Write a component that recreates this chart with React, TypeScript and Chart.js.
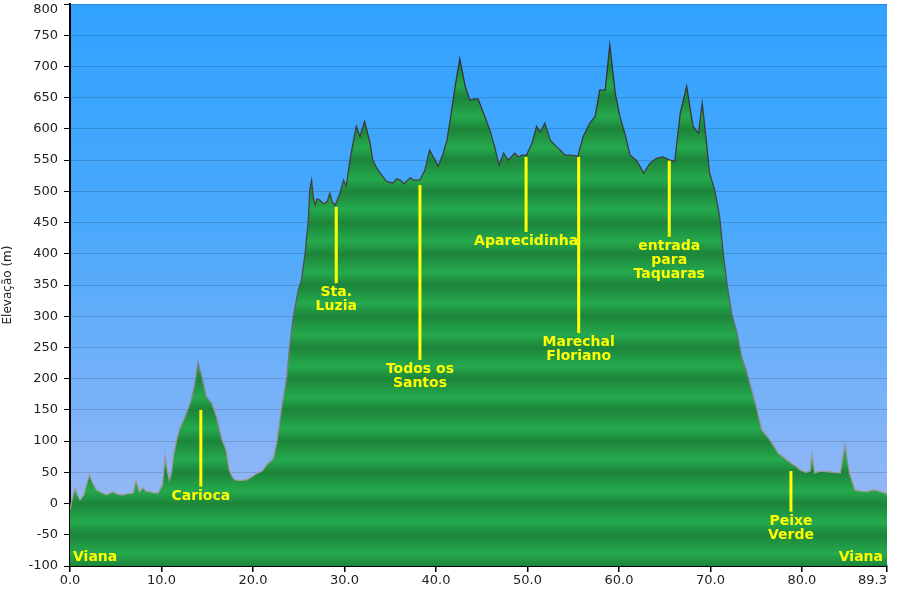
import { useEffect, useRef } from 'react';
import Chart from 'chart.js/auto';

// distance along the route (km) and elevation (m)
const distanceKm = [
  0.0, 0.3, 0.55, 0.8, 1.1, 1.5, 1.8, 2.1, 2.5, 2.9, 3.4, 4.0, 4.4, 4.7, 5.2, 5.8, 6.3, 6.9, 7.2, 7.6,
  8.0, 8.3, 8.7, 9.2, 9.6, 9.8, 10.1, 10.4, 10.6, 10.85, 11.1, 11.3, 11.66, 12.0, 12.4, 12.75, 13.3, 13.66, 14.0, 14.4,
  14.9, 15.5, 16.0, 16.6, 17.05, 17.4, 17.7, 18.0, 18.6, 19.3, 19.9, 20.4, 21.0, 21.5, 22.2, 22.6, 23.1, 23.7, 24.0, 24.4,
  24.95, 25.3, 25.7, 26.05, 26.2, 26.4, 26.6, 26.8, 27.0, 27.3, 27.7, 28.1, 28.4, 28.7, 29.0, 29.5, 29.9, 30.2, 30.6, 31.0,
  31.3, 31.7, 32.2, 32.5, 32.8, 33.1, 33.5, 33.9, 34.6, 35.3, 35.7, 36.1, 36.5, 36.8, 37.2, 37.5, 38.25, 38.8, 39.3, 39.9,
  40.25, 40.8, 41.2, 41.5, 42.1, 42.6, 43.2, 43.7, 44.2, 44.6, 45.2, 45.9, 46.4, 46.9, 47.4, 47.9, 48.6, 49.0, 49.4, 49.9,
  50.5, 51.0, 51.4, 51.9, 52.5, 53.0, 53.6, 54.1, 54.8, 55.5, 56.1, 56.8, 57.4, 57.9, 58.5, 59.0, 59.6, 60.1, 60.7, 61.2,
  61.9, 62.3, 62.7, 63.4, 64.1, 64.8, 65.6, 66.1, 66.7, 67.4, 68.1, 68.7, 69.1, 69.5, 69.9, 70.5, 71.0, 71.4, 71.8, 72.3,
  72.9, 73.4, 74.0, 74.5, 75.0, 75.6, 76.5, 77.4, 78.3, 79.4, 79.8, 80.4, 80.9, 81.1, 81.4, 82.0, 82.7, 83.5, 84.2, 84.7,
  85.2, 85.8, 86.5, 87.1, 87.7, 88.2, 89.3,
];
const elevationM = [
  -10, 12, 25, 14, 6, 14, 30, 46, 33, 22, 18, 14, 17, 19, 15, 14, 16, 17, 37, 19,
  26, 20, 19, 17, 17, 22, 30, 75, 55, 38, 50, 75, 102, 120, 133, 145, 168, 193, 225, 203,
  171, 160, 139, 102, 86, 54, 44, 38, 37, 38, 43, 48, 52, 62, 72, 97, 150, 203, 251, 299,
  342, 358, 401, 454, 502, 518, 490, 478, 488, 486, 480, 483, 497, 482, 478, 497, 518, 508, 550, 582,
  604, 588, 612, 595, 577, 550, 538, 529, 516, 513, 520, 518, 512, 516, 522, 518, 518, 534, 566, 550,
  540, 561, 582, 609, 668, 712, 668, 646, 648, 648, 625, 598, 572, 542, 561, 550, 561, 555, 558, 558,
  577, 604, 595, 609, 582, 574, 566, 558, 558, 556, 588, 609, 620, 662, 662, 734, 657, 620, 590, 558,
  550, 540, 529, 545, 553, 555, 550, 548, 625, 668, 604, 593, 641, 588, 530, 500, 460, 400, 353, 305,
  273, 235, 209, 182, 155, 118, 102, 81, 70, 59, 54, 50, 52, 78, 49, 52, 51, 50, 49, 94,
  49, 22, 20, 19, 22, 21, 16,
];

const xTicks = [0, 10, 20, 30, 40, 50, 60, 70, 80, 89.3];
const yTicks = [-100, -50, 0, 50, 100, 150, 200, 250, 300, 350, 400, 450, 500, 550, 600, 650, 700, 750, 800];

// place markers: name lines, km, top and bottom of the yellow pin (m)
const markerNames = [
  ['Carioca'],
  ['Sta.', 'Luzia'],
  ['Todos os', 'Santos'],
  ['Aparecidinha'],
  ['Marechal', 'Floriano'],
  ['entrada', 'para', 'Taquaras'],
  ['Peixe', 'Verde'],
];
const markerKm = [14.3, 29.1, 38.25, 49.85, 55.6, 65.5, 78.8];
const markerTop = [150, 475, 510, 555, 555, 549, 52];
const markerBottom = [27, 353, 230, 435, 273, 427, -13];
const endLabel = 'Viana';
const endLabelElev = -86;

const YELLOW = '#ffff00';
const FONT = '"DejaVu Sans", Verdana, sans-serif';

export default function App() {
  const canvasRef = useRef<HTMLCanvasElement>(null);
  const chartRef = useRef<Chart | null>(null);

  useEffect(() => {
    if (!canvasRef.current) return;
    if (chartRef.current) chartRef.current.destroy();

    const plotBackground = {
      id: 'plotBackground',
      beforeDraw(chart: any) {
        const { ctx, chartArea } = chart;
        if (!chartArea) return;
        const g = ctx.createLinearGradient(0, chartArea.top, 0, chartArea.bottom);
        g.addColorStop(0, '#31a2ff');
        g.addColorStop(0.4, '#4aa9fb');
        g.addColorStop(0.85, '#8fb6f6');
        g.addColorStop(1, '#a3c2f3');
        ctx.save();
        ctx.fillStyle = g;
        ctx.fillRect(chartArea.left, chartArea.top, chartArea.right - chartArea.left, chartArea.bottom - chartArea.top);
        ctx.restore();
      },
    };

    const labelsAndMarkers = {
      id: 'labelsAndMarkers',
      afterDraw(chart: any) {
        const { ctx, scales } = chart;
        const x = scales.x;
        const y = scales.y;
        ctx.save();

        // tick labels
        ctx.fillStyle = '#222';
        ctx.font = `13px ${FONT}`;
        ctx.textBaseline = 'middle';
        ctx.textAlign = 'right';
        yTicks.forEach((v) => {
          const py = Math.max(y.getPixelForValue(v), 10);
          ctx.fillText(String(v), 58, py);
        });
        xTicks.forEach((v, i) => {
          ctx.textAlign = i === xTicks.length - 1 ? 'right' : 'center';
          ctx.fillText(v.toFixed(1), x.getPixelForValue(v), 581);
        });

        // place pins
        ctx.strokeStyle = YELLOW;
        ctx.lineWidth = 3;
        ctx.fillStyle = YELLOW;
        ctx.font = `bold 14px ${FONT}`;
        ctx.textAlign = 'center';
        markerNames.forEach((lines, i) => {
          const px = x.getPixelForValue(markerKm[i]);
          const top = y.getPixelForValue(markerTop[i]);
          const bottom = y.getPixelForValue(markerBottom[i]);
          ctx.beginPath();
          ctx.moveTo(px, top);
          ctx.lineTo(px, bottom);
          ctx.stroke();
          lines.forEach((t, j) => ctx.fillText(t, px, bottom + 9.5 + j * 14));
        });

        const vy = y.getPixelForValue(endLabelElev);
        ctx.textAlign = 'left';
        ctx.fillText(endLabel, x.getPixelForValue(0) + 3, vy);
        ctx.textAlign = 'right';
        ctx.fillText(endLabel, x.getPixelForValue(89.3) - 4, vy);
        ctx.restore();
      },
    };

    chartRef.current = new Chart(canvasRef.current, {
      type: 'line',
      data: {
        datasets: [{
          data: distanceKm.map((d, i) => ({ x: d, y: elevationM[i] })),
          fill: 'start',
          pointRadius: 0,
          borderWidth: 1.3,
          tension: 0,
          borderColor: (c: any) => {
            const { chart } = c;
            const area = chart.chartArea;
            if (!area) return '#444';
            const g = chart.ctx.createLinearGradient(0, area.top, 0, area.bottom);
            g.addColorStop(0, '#2a2a2a');
            g.addColorStop(0.45, '#4a4a4a');
            g.addColorStop(0.7, '#8a8a8a');
            g.addColorStop(1, '#b0b0b0');
            return g;
          },
          backgroundColor: (c: any) => {
            const { chart } = c;
            const area = chart.chartArea;
            const ys = chart.scales.y;
            if (!area || !ys) return '#22a04a';
            const H = area.bottom - area.top;
            const g = chart.ctx.createLinearGradient(0, area.top, 0, area.bottom);
            const stop = (p: number, col: string) => g.addColorStop(Math.min(1, Math.max(0, (p - area.top) / H)), col);
            for (let v = 800; v > -100; v -= 50) {
              const t = ys.getPixelForValue(v);
              const b = ys.getPixelForValue(v - 50);
              stop(t, '#1c853a');
              stop(t + 0.6 * (b - t), '#25a94d');
              stop(b, '#1c853a');
            }
            return g;
          },
        }],
      },
      options: {
        animation: false,
        responsive: true,
        maintainAspectRatio: false,
        layout: { padding: { top: 4, right: 13, left: 0, bottom: 0 } },
        plugins: {
          legend: { display: false },
          tooltip: { enabled: false },
        },
        scales: {
          x: {
            type: 'linear',
            min: 0,
            max: 89.3,
            z: 1,
            afterBuildTicks: (s: any) => { s.ticks = xTicks.map((v) => ({ value: v })); },
            afterFit: (s: any) => { s.height = 28; s.paddingLeft = 0; s.paddingRight = 0; },
            ticks: { display: false },
            grid: { drawOnChartArea: false, tickColor: '#000', tickLength: 6, lineWidth: 1.5 },
            border: { display: true, color: '#000', width: 2 },
          },
          y: {
            min: -100,
            max: 800,
            z: 1,
            afterBuildTicks: (s: any) => { s.ticks = yTicks.map((v) => ({ value: v })); },
            afterFit: (s: any) => { s.width = 70; s.paddingTop = 0; s.paddingBottom = 0; },
            ticks: { display: false },
            grid: { color: 'rgba(0,0,0,0.15)', lineWidth: 1, tickColor: '#000', tickLength: 6 },
            border: { display: true, color: '#000', width: 2 },
            title: {
              display: true,
              text: 'Elevação (m)',
              color: '#222',
              font: { family: FONT, size: 12 },
              padding: { top: 1, bottom: 0 },
            },
          },
        },
      },
      plugins: [plotBackground, labelsAndMarkers],
    } as any);

    return () => {
      if (chartRef.current) {
        chartRef.current.destroy();
        chartRef.current = null;
      }
    };
  }, []);

  return (
    <div style={{ position: 'fixed', left: 0, top: 0, width: 900, height: 594, background: '#fff' }}>
      <canvas ref={canvasRef} />
    </div>
  );
}
